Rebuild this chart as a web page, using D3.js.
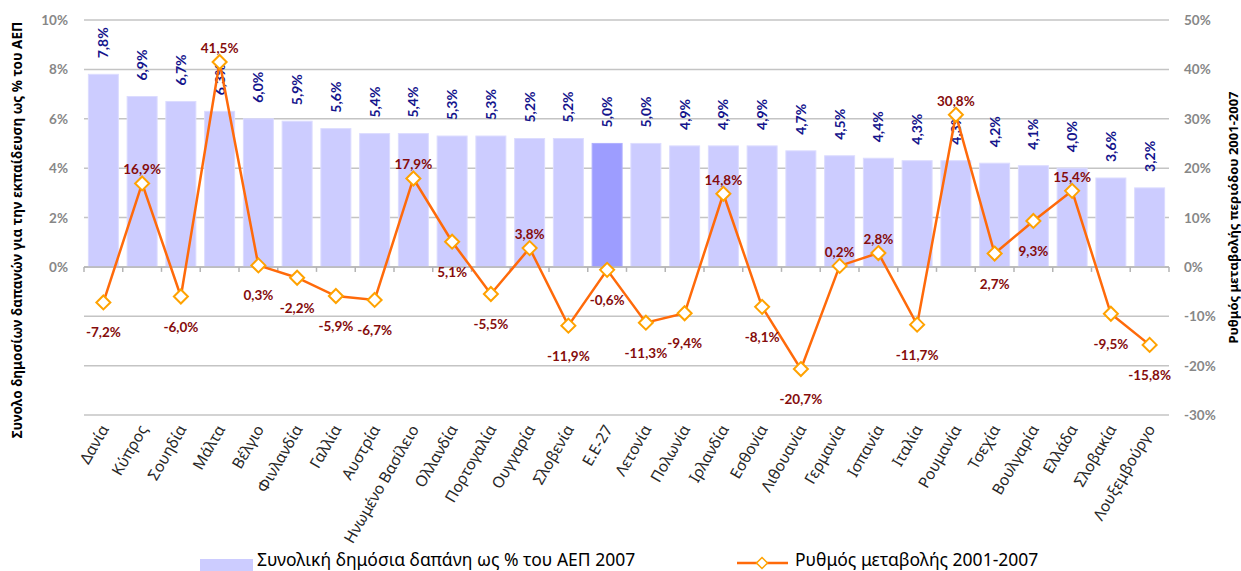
<!DOCTYPE html>
<html>
<head>
<meta charset="utf-8">
<script src="https://cdn.jsdelivr.net/npm/d3@7"></script>
<style>
  body { margin: 0; background: #fff; }
  svg text { font-family: Lato, "Noto Sans", sans-serif; }
  svg text.gr { font-family: "Noto Sans", sans-serif; }
</style>
</head>
<body>
<div id="chart"></div>
<script>
var countries = ['Δανία', 'Κύπρος', 'Σουηδία', 'Μάλτα', 'Βέλγιο', 'Φινλανδία', 'Γαλλία', 'Αυστρία',
  'Ηνωμένο Βασίλειο', 'Ολλανδία', 'Πορτογαλία', 'Ουγγαρία', 'Σλοβενία', 'Ε.Ε-27', 'Λετονία', 'Πολωνία',
  'Ιρλανδία', 'Εσθονία', 'Λιθουανία', 'Γερμανία', 'Ισπανία', 'Ιταλία', 'Ρουμανία', 'Τσεχία',
  'Βουλγαρία', 'Ελλάδα', 'Σλοβακία', 'Λουξεμβούργο'];
var spending2007 = [7.8, 6.9, 6.7, 6.3, 6.0, 5.9, 5.6, 5.4, 5.4, 5.3, 5.3, 5.2, 5.2, 5.0, 5.0, 4.9,
  4.9, 4.9, 4.7, 4.5, 4.4, 4.3, 4.3, 4.2, 4.1, 4.0, 3.6, 3.2];
var change0107 = [-7.2, 16.9, -6.0, 41.5, 0.3, -2.2, -5.9, -6.7, 17.9, 5.1, -5.5, 3.8, -11.9, -0.6,
  -11.3, -9.4, 14.8, -8.1, -20.7, 0.2, 2.8, -11.7, 30.8, 2.7, 9.3, 15.4, -9.5, -15.8];
// where excel put each line label
var changeLabelSide = ['b', 'a', 'b', 'a', 'b', 'b', 'b', 'b', 'a', 'b', 'b', 'a', 'b', 'b',
  'b', 'b', 'a', 'b', 'b', 'a', 'a', 'b', 'a', 'b', 'b', 'a', 'b', 'b'];
var leftTicks = [0, 2, 4, 6, 8, 10];
var rightTicks = [-30, -20, -10, 0, 10, 20, 30, 40, 50];
var euLabel = 'Ε.Ε-27';

var chart = {
  width: 1241,
  height: 571,
  left: 84,
  right: 1169,
  top: 20,
  bottom: 415,
  fmt: function(v) {
    return d3.format('.1f')(v).replace('.', ',').replace('\u2212', '-') + '%';
  },
  draw: function() {
    var svg = d3.select('#chart').append('svg')
      .attr('width', chart.width)
      .attr('height', chart.height);

    var x = d3.scaleBand().domain(countries).range([chart.left, chart.right]).paddingInner(0.226).paddingOuter(0.113);
    var xb = d3.scaleBand().domain(countries).range([chart.left, chart.right]);
    var y = d3.scaleLinear().domain([-6, 10]).range([chart.bottom, chart.top]);
    var y2 = d3.scaleLinear().domain([-30, 50]).range([chart.bottom, chart.top]);

    // gridlines (right axis steps)
    svg.append('g').selectAll('line').data(rightTicks).join('line')
      .attr('x1', chart.left).attr('x2', chart.right)
      .attr('y1', function(d) { return y2(d); }).attr('y2', function(d) { return y2(d); })
      .attr('stroke', '#c4c4c4').attr('stroke-width', 1.5);

    // bars
    svg.append('g').selectAll('rect').data(countries).join('rect')
      .attr('x', function(d) { return x(d); })
      .attr('width', x.bandwidth())
      .attr('y', function(d, i) { return y(spending2007[i]); })
      .attr('height', function(d, i) { return y(0) - y(spending2007[i]); })
      .attr('fill', function(d) { return d == euLabel ? '#9d9dff' : '#ccccff'; })
      .attr('stroke', function(d) { return d == euLabel ? '#b0b0ff' : '#dcdcff'; })
      .attr('stroke-width', 1);

    // category axis at 0
    svg.append('line')
      .attr('x1', chart.left).attr('x2', chart.right)
      .attr('y1', y(0)).attr('y2', y(0))
      .attr('stroke', '#b4b4b4').attr('stroke-width', 1.5);
    var bounds = countries.map(function(d) { return xb(d); }).concat([chart.right]);
    svg.append('g').selectAll('line').data(bounds).join('line')
      .attr('x1', function(d) { return d; }).attr('x2', function(d) { return d; })
      .attr('y1', y(0)).attr('y2', y(0) + 5)
      .attr('stroke', '#b4b4b4').attr('stroke-width', 1.5);

    // bar labels
    svg.append('g').selectAll('text').data(countries).join('text')
      .attr('transform', function(d, i) {
        return 'translate(' + (xb(d) + xb.bandwidth() / 2 + 5) + ',' + (y(spending2007[i]) - 16) + ') rotate(-90)';
      })
      .attr('fill', '#14148c')
      .attr('font-size', '14px')
      .attr('font-weight', 'bold')
      .text(function(d, i) { return chart.fmt(spending2007[i]); });

    // left axis
    svg.append('g').selectAll('text').data(leftTicks).join('text')
      .attr('x', 68).attr('y', function(d) { return y(d) + 5; })
      .attr('text-anchor', 'end')
      .attr('fill', '#878787').attr('font-size', '13.5px').attr('font-weight', 'bold')
      .text(function(d) { return d + '%'; });

    // right axis
    svg.append('g').selectAll('text').data(rightTicks).join('text')
      .attr('x', 1184).attr('y', function(d) { return y2(d) + 5; })
      .attr('fill', '#878787').attr('font-size', '13.5px').attr('font-weight', 'bold')
      .text(function(d) { return d + '%'; });

    // axis titles
    svg.append('text').attr('class', 'gr')
      .attr('transform', 'translate(22,230) rotate(-90)')
      .attr('text-anchor', 'middle')
      .attr('font-size', '13.5px').attr('font-weight', 'bold').attr('fill', '#000')
      .text('Συνολο δημοσίων δαπανών για την εκπαίδευση ως % του ΑΕΠ');
    svg.append('text').attr('class', 'gr')
      .attr('transform', 'translate(1238,' + ((chart.top + chart.bottom) / 2) + ') rotate(-90)')
      .attr('text-anchor', 'middle')
      .attr('font-size', '13px').attr('font-weight', 'bold').attr('fill', '#000')
      .text('Ρυθμός μεταβολής περιόδου 2001-2007');

    // category labels
    svg.append('g').selectAll('text').data(countries).join('text')
      .attr('class', 'gr')
      .attr('transform', function(d) {
        return 'translate(' + (xb(d) + xb.bandwidth() / 2 + 6) + ',429) rotate(-60)';
      })
      .attr('text-anchor', 'end')
      .attr('font-size', '15.5px').attr('fill', '#262626')
      .text(function(d) { return d; });

    // change line
    var cx = function(i) { return xb(countries[i]) + xb.bandwidth() / 2; };
    var line = d3.line()
      .x(function(d, i) { return cx(i); })
      .y(function(d) { return y2(d); });
    svg.append('path').datum(change0107)
      .attr('d', line)
      .attr('fill', 'none')
      .attr('stroke', '#ff6a0a').attr('stroke-width', 2.5);

    var diamond = function(s) { return 'M0,' + (-s) + 'L' + s + ',0L0,' + s + 'L' + (-s) + ',0Z'; };
    svg.append('g').selectAll('path').data(change0107).join('path')
      .attr('transform', function(d, i) { return 'translate(' + cx(i) + ',' + y2(d) + ')'; })
      .attr('d', diamond(7))
      .attr('fill', '#fff')
      .attr('stroke', '#ffa200').attr('stroke-width', 2);

    svg.append('g').selectAll('text').data(change0107).join('text')
      .attr('x', function(d, i) { return cx(i); })
      .attr('y', function(d, i) { return y2(d) + (changeLabelSide[i] == 'a' ? -9 : 35); })
      .attr('text-anchor', 'middle')
      .attr('fill', '#850c0c').attr('font-size', '13.5px').attr('font-weight', 'bold')
      .text(function(d) { return chart.fmt(d); });

    // legend
    var lg = svg.append('g');
    lg.append('rect').attr('x', 200).attr('y', 559).attr('width', 53).attr('height', 12).attr('fill', '#ccccff');
    lg.append('text').attr('class', 'gr').attr('x', 257).attr('y', 566).attr('font-size', '17.5px').attr('fill', '#000')
      .text('Συνολική δημόσια δαπάνη ως % του ΑΕΠ 2007');
    lg.append('line').attr('x1', 737).attr('x2', 788).attr('y1', 563).attr('y2', 563)
      .attr('stroke', '#ff6a0a').attr('stroke-width', 2.5);
    lg.append('path').attr('transform', 'translate(762,563)').attr('d', diamond(5.5))
      .attr('fill', '#fff').attr('stroke', '#ffa200').attr('stroke-width', 1.5);
    lg.append('text').attr('class', 'gr').attr('x', 795).attr('y', 566).attr('font-size', '17.5px').attr('fill', '#000')
      .text('Ρυθμός μεταβολής 2001-2007');
  }
};

chart.draw();
</script>
</body>
</html>
